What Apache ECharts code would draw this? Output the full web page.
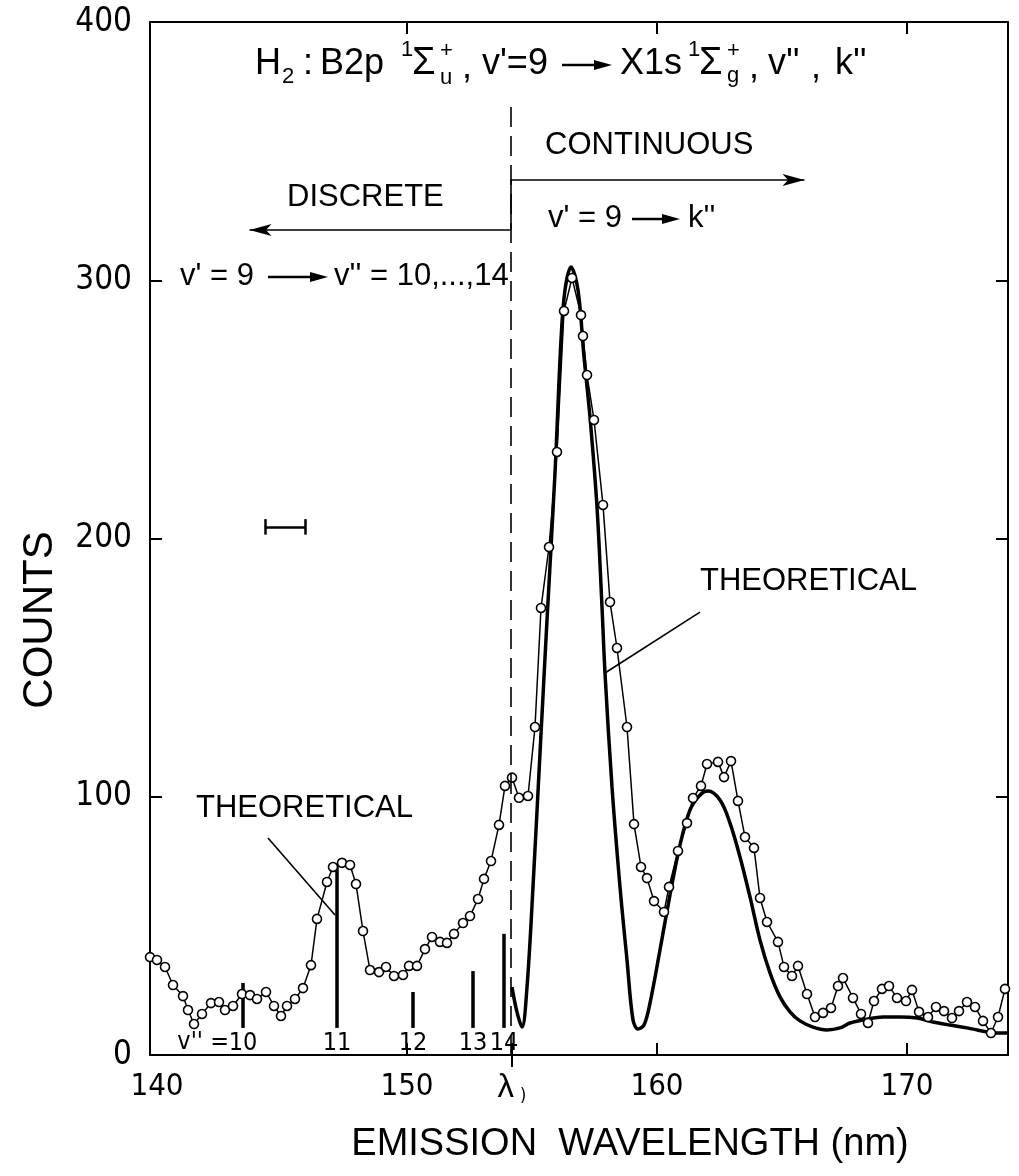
<!DOCTYPE html>
<html><head><meta charset="utf-8">
<script src="https://cdn.jsdelivr.net/npm/echarts@6/dist/echarts.min.js"></script>
<style>html,body{margin:0;padding:0;background:#fff}#c{width:1019px;height:1176px}</style>
</head><body><div id="c"></div>
<script>
// ---- data ----
const expX = [139.72,140.00,140.32,140.64,141.04,141.24,141.48,141.80,142.16,142.48,142.72,143.04,143.40,143.72,144.00,144.36,144.68,144.96,145.20,145.52,145.84,146.16,146.40,146.80,147.04,147.40,147.72,147.96,148.24,148.52,148.88,149.16,149.48,149.84,150.08,150.40,150.72,151.00,151.32,151.60,151.88,152.24,152.52,152.84,153.08,153.36,153.68,153.92,154.20,154.48,154.84,155.12,155.36,155.68,156.00,156.28,156.60,156.96,157.04,157.20,157.48,157.84,158.12,158.40,158.80,159.08,159.36,159.60,159.88,160.28,160.48,160.84,161.20,161.44,161.76,162.00,162.44,162.68,162.96,163.24,163.52,163.88,164.12,164.40,164.84,165.08,165.40,165.64,166.00,166.32,166.64,166.96,167.24,167.44,167.84,168.16,168.44,168.68,169.00,169.28,169.60,169.96,170.20,170.48,170.84,171.16,171.48,171.80,172.08,172.40,172.72,173.04,173.36,173.64,173.92];
const expY = [37.9,36.8,34.1,27.1,22.8,17.4,12.0,15.9,20.1,20.5,17.4,19.0,23.6,23.2,21.7,24.4,19.0,15.1,19.0,21.7,25.9,34.8,52.7,67.0,72.8,74.4,73.6,66.2,48.0,32.9,32.1,34.1,30.6,31.0,34.5,34.5,41.0,45.7,43.8,43.4,46.9,51.1,53.8,60.4,68.2,75.1,89.1,104.2,107.4,99.6,100.3,127.0,173.1,196.7,233.5,288.1,300.9,286.5,278.4,263.3,245.9,213.0,175.4,157.6,127.0,89.4,72.8,68.5,59.6,55.4,65.1,79.0,89.8,99.5,104.2,112.7,113.5,107.6,113.8,98.4,84.4,80.2,60.8,51.5,43.8,34.1,30.6,34.5,23.6,14.7,16.3,18.2,26.7,29.8,22.1,15.9,12.4,20.9,25.6,26.7,22.1,20.9,25.2,16.7,14.7,18.6,17.0,14.3,17.0,20.5,18.6,13.2,8.5,14.7,25.6];
const theoX = [154.20,154.40,154.60,154.80,155.04,155.32,155.60,155.92,156.16,156.32,156.56,156.84,157.08,157.32,157.60,157.80,157.92,158.20,158.52,158.80,159.04,159.24,159.48,159.72,160.12,160.52,160.92,161.32,161.72,162.04,162.52,162.92,163.32,163.72,164.12,164.52,164.92,165.32,165.72,166.24,166.80,167.32,167.72,168.40,169.04,169.72,170.40,171.04,171.72,172.40,173.20,173.44,174.04];
const theoY = [26.3,16.6,10.8,26.3,65.1,116.9,168.4,225.4,276.9,296.2,305.1,296.2,270.3,247.0,212.2,173.5,147.9,103.8,65.1,36.8,13.6,10.1,11.6,20.1,40.7,62.0,81.3,94.9,100.7,102.2,98.7,89.8,76.7,61.2,44.5,31.8,22.5,16.7,13.2,10.8,9.7,10.5,12.4,13.9,14.7,14.7,14.3,12.8,11.6,10.5,8.9,8.5,8.5];
const lineX = [143.44,147.20,150.24,152.64,153.88];
const lineTop = [27.9,73.2,24.4,32.5,46.9];
const lineLabels = ['10','11','12','13','14'];
const lineBase = 10.5;
const lambda0 = 154.15;
const xTickLabels = [140,150,154.2,160,170];
const xInnerTicks = [150,154.2,160,170];
const yTicks = [0,100,200,300,400];

const NF = '"DejaVu Sans Condensed","Liberation Sans",sans-serif';
const WF = '"Liberation Sans","DejaVu Sans",sans-serif';

const chart = echarts.init(document.getElementById('c'), null, {renderer:'canvas'});
const expData = expX.map((x,i)=>[x,expY[i]]);
const theoData = theoX.map((x,i)=>[x,theoY[i]]);
const lineData = lineX.map((x,i)=>[x,lineTop[i],lineLabels[i]]);
const XMIN = 139.72, XMAX = 174.04;

function txt(t, x, y, size, opts){
  opts = opts || {};
  return {type:'text', x:x, y:y, silent:true, style:{text:t, fill:'#000',
    font: 'normal '+size+'px '+(opts.family||WF),
    textAlign: opts.align||'left', align: opts.align||'left',
    textVerticalAlign:'middle', verticalAlign:'middle'}};
}
function arrow(x1, x2, y, w){
  w = w || 2;
  return [
    {type:'line', silent:true, shape:{x1:x1, y1:y, x2:x2-12, y2:y}, style:{stroke:'#000', lineWidth:w}},
    {type:'polygon', silent:true, shape:{points:[[x2-18,y-5],[x2,y],[x2-18,y+5]]}, style:{fill:'#000'}}
  ];
}
const TS = 36, TSS = 22, TY = 64;
const graphics = [
  // title
  txt('H',255,TY,TS), txt('2',282,TY+13,TSS),
  txt(':',303,TY,TS),
  txt('B2p',320,TY,TS),
  txt('1',401,TY-14,TSS),
  txt('Σ',412,TY,38),
  txt('+',440,TY-13,TSS), txt('u',440,TY+14,TSS),
  txt(',',462,TY+4,TS),
  txt("v'=9",482,TY,TS),
  ...arrow(562,612,TY+1,2.5),
  txt('X1s',620,TY,TS),
  txt('1',688,TY-14,TSS),
  txt('Σ',699,TY,38),
  txt('+',727,TY-13,TSS), txt('g',727,TY+12,TSS),
  txt(',',749,TY+4,TS),
  txt("v''",768,TY,TS),
  txt(',',811,TY+4,TS),
  txt("k''",835,TY,TS),
  // annotations
  txt('CONTINUOUS',545,145,31),
  txt('DISCRETE',287,197,31),
  txt("v' = 9",548,218,31),
  ...arrow(632,680,219,2.5),
  txt("k''",688,218,31),
  txt("v' = 9",180,276,31),
  ...arrow(268,328,277,2.5),
  txt("v'' = 10,...,14",334,276,31),
  txt('THEORETICAL',700,581,31),
  txt('THEORETICAL',196,808,31),
  txt("v'' =",229,1042,25,{align:'right',family:NF}),
  // axis titles
  {type:'text', x:630, y:1145, silent:true, style:{text:'EMISSION  WAVELENGTH (nm)', fill:'#000', font:'normal 38px '+WF, textAlign:'center', align:'center', textVerticalAlign:'middle', verticalAlign:'middle'}},
  {type:'text', x:40, y:620, rotation:Math.PI/2, silent:true, style:{text:'COUNTS', fill:'#000', font:'normal 42px '+WF, textAlign:'center', align:'center', textVerticalAlign:'middle', verticalAlign:'middle'}}
];

const lineStyleThin = {color:'#000', width:1.6, type:'solid'};
chart.setOption({
  animation:false,
  backgroundColor:'#fff',
  grid:{left:150, right:11, top:22, bottom:121, containLabel:false},
  xAxis:[
    {type:'value', position:'bottom', min:XMIN, max:XMAX,
      axisLine:{show:true, onZero:false, lineStyle:{color:'#000', width:2}},
      axisTick:{show:true, inside:true, length:12, customValues:xInnerTicks, lineStyle:{color:'#000', width:2}},
      axisLabel:{show:true, customValues:xTickLabels, margin:16, color:'#000', fontSize:31, fontFamily:NF,
        formatter:function(v){ return Math.abs(v-154.2)<0.01 ? '{l|λ}{s|)}' : String(Math.round(v)); },
        rich:{l:{fontSize:33, fontFamily:WF, color:'#000'}, s:{fontSize:18, color:'#000', padding:[16,0,0,6]}}},
      splitLine:{show:false}},
    {type:'value', position:'top', min:XMIN, max:XMAX,
      axisLine:{show:true, onZero:false, lineStyle:{color:'#000', width:2}},
      axisTick:{show:true, inside:true, length:12, customValues:[150,160,170], lineStyle:{color:'#000', width:2}},
      axisLabel:{show:false}, splitLine:{show:false}},
    {type:'value', position:'bottom', min:XMIN, max:XMAX,
      axisLine:{show:false, onZero:false},
      axisTick:{show:true, inside:false, length:12, customValues:[154.2], lineStyle:{color:'#000', width:2}},
      axisLabel:{show:false}, splitLine:{show:false}}
  ],
  yAxis:[
    {type:'value', position:'left', min:0, max:400, interval:100,
      axisLine:{show:true, onZero:false, lineStyle:{color:'#000', width:2}},
      axisTick:{show:true, inside:true, length:12, lineStyle:{color:'#000', width:2}},
      axisLabel:{show:true, margin:18, color:'#000', fontSize:33, fontFamily:NF,
        customValues:yTicks},
      splitLine:{show:false}},
    {type:'value', position:'right', min:0, max:400, interval:100,
      axisLine:{show:true, onZero:false, lineStyle:{color:'#000', width:2}},
      axisTick:{show:true, inside:true, length:12, lineStyle:{color:'#000', width:2}},
      axisLabel:{show:false}, splitLine:{show:false}}
  ],
  graphic: graphics,
  series:[
    {type:'line', name:'theory', data:theoData, smooth:0.35, symbol:'none', z:3,
      lineStyle:{color:'#000', width:3.5}},
    {type:'custom', name:'discrete', data:lineData, z:3,
      renderItem:function(params, api){
        const x = api.value(0), top = api.value(1);
        const p1 = api.coord([x, lineBase]), p2 = api.coord([x, top]);
        return {type:'group', children:[
          {type:'line', shape:{x1:p1[0], y1:p1[1], x2:p2[0], y2:p2[1]}, style:{stroke:'#000', lineWidth:3.5}},
          {type:'text', x:p1[0], y:api.coord([x,0])[1]-12, style:{text:lineLabels[params.dataIndex], fill:'#000',
            font:'normal 25px '+NF, textAlign:'center', align:'center', textVerticalAlign:'middle', verticalAlign:'middle'}}
        ]};
      }},
    {type:'line', name:'exp', data:expData, symbol:'circle', symbolSize:9, z:4,
      lineStyle:{color:'#000', width:1.5},
      itemStyle:{color:'#fff', borderColor:'#000', borderWidth:1.6},
      markLine:{silent:true, symbol:['none','none'], label:{show:false}, animation:false,
        data:[
          [{coord:[lambda0,0], lineStyle:{color:'#000', width:1.6, type:[20,9]}}, {coord:[lambda0,370]}],
          [{coord:[lambda0,338.8], lineStyle:lineStyleThin}, {coord:[lambda0,319.5]}],
          [{coord:[lambda0,338.8], lineStyle:lineStyleThin, symbol:'none'}, {coord:[165.9,338.8], symbol:'arrow', symbolSize:[9,22]}],
          [{coord:[lambda0,319.5], lineStyle:lineStyleThin, symbol:'none'}, {coord:[143.7,319.5], symbol:'arrow', symbolSize:[9,22]}],
          [{coord:[157.92,147.9], lineStyle:lineStyleThin}, {coord:[161.72,171.5]}],
          [{coord:[144.44,84.0], lineStyle:lineStyleThin}, {coord:[147.12,54.2]}],
          [{coord:[144.32,204.5], lineStyle:{color:'#000', width:2.5, type:'solid'}}, {coord:[145.92,204.5]}],
          [{coord:[144.32,201.5], lineStyle:{color:'#000', width:2.5, type:'solid'}}, {coord:[144.32,207.5]}],
          [{coord:[145.92,201.5], lineStyle:{color:'#000', width:2.5, type:'solid'}}, {coord:[145.92,207.5]}]
        ]}}
  ]
});
</script></body></html>
